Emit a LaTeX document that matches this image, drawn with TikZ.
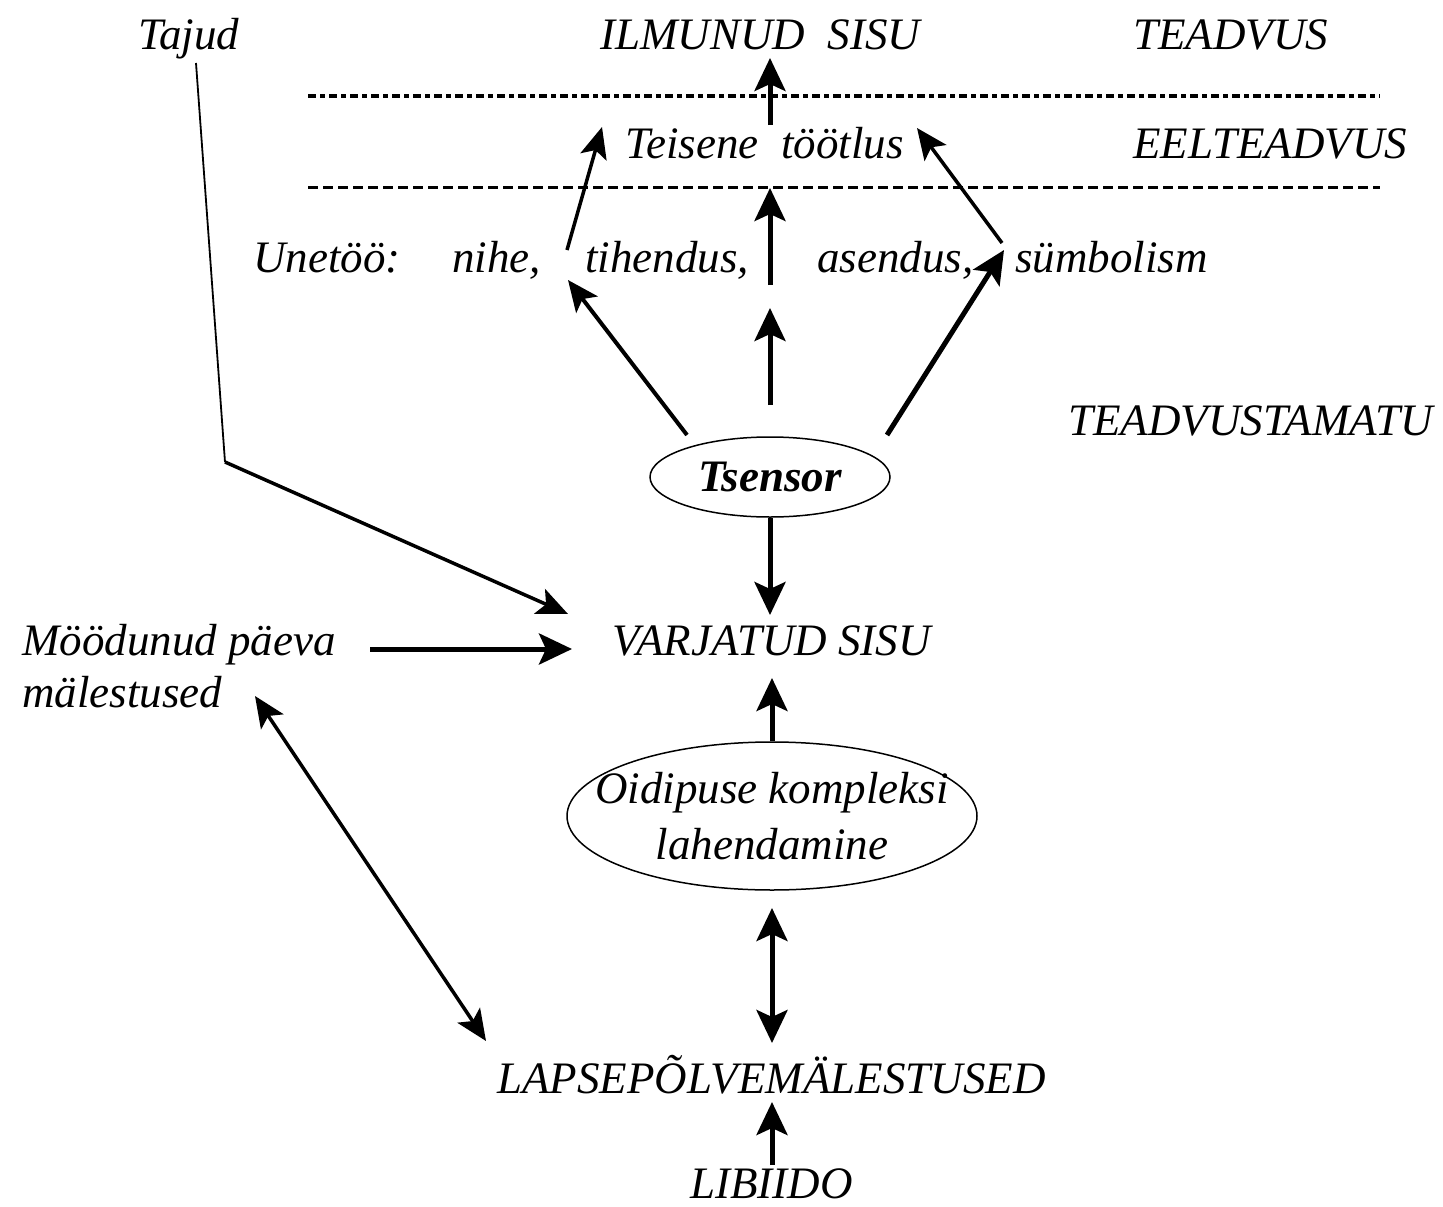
\documentclass[tikz,border=0pt]{standalone}
\usepackage{fontspec}
\setmainfont{Liberation Serif}
\usetikzlibrary{arrows.meta,shapes.geometric}
\begin{document}
\begin{tikzpicture}[x=1pt,y=-1pt,
  txt/.style={font=\fontsize{45}{54}\selectfont\itshape, inner sep=0pt, anchor=base west},
  bigarr/.style={line width=5pt, -{Stealth[length=33pt,width=31pt,inset=7pt]}},
  medarr/.style={line width=3.5pt, -{Stealth[length=31pt,width=27pt,inset=7pt]}},
  dblarr/.style={line width=5pt, {Stealth[length=33pt,width=31pt,inset=7pt]}-{Stealth[length=33pt,width=31pt,inset=7pt]}},
  thindbl/.style={line width=3.5pt, {Stealth[length=31pt,width=27pt,inset=7pt]}-{Stealth[length=31pt,width=27pt,inset=7pt]}},
  oval/.style={draw, line width=1.5pt, ellipse, inner sep=0pt, align=center}
]
\useasboundingbox (0,0) rectangle (1443,1207);

% texts
\node[txt] (tajud) at (138,50) {Tajud};
\node[txt] (ilm) at (600,50) {ILMUNUD\ \ SISU};
\node[txt] (teadvus) at (1133,50) {TEADVUS};
\node[txt] (teisene) at (625,158) {Teisene\ \ töötlus};
\node[txt] (eelt) at (1133,158) {EELTEADVUS};
\node[txt] (unetoo) at (253,272) {Unetöö:};
\node[txt] (nihe) at (452,272) {nihe,};
\node[txt] (tih) at (585,272) {tihendus,};
\node[txt] (asen) at (817,272) {asendus,};
\node[txt] (symb) at (1015,272) {sümbolism};
\node[txt] (teadm) at (1068,435) {TEADVUSTAMATU};
\node[txt] (varj) at (612,655) {VARJATUD SISU};
\node[txt] (mood1) at (22,655) {Möödunud päeva};
\node[txt] (mood2) at (22,707) {mälestused};
\node[txt] (laps) at (497,1093) {LAPSEPÕLVEMÄLESTUSED};
\node[txt] (libi) at (690,1198) {LIBIIDO};

% ellipses
\node[oval, minimum width=240pt, minimum height=80pt,
      font=\fontsize{45}{54}\selectfont\bfseries\itshape] (tsensor) at (770,477) {Tsensor};
\node[oval, minimum width=410pt, minimum height=148pt, inner xsep=-40pt,
      font=\fontsize{45}{56}\selectfont\itshape] (oid) at (772,816) {Oidipuse kompleksi\\lahendamine};

% dashed lines
\coordinate (d1a) at (308,96);
\coordinate (d1b) at (1380,96);
\coordinate (d2a) at (308,187);
\coordinate (d2b) at (1380,187);
\draw[line width=3.5pt, dash pattern=on 8pt off 4pt on 5pt off 4pt] (d1a) -- (d1b);
\draw[line width=3pt, dash pattern=on 10pt off 5pt] (d2a) -- (d2b);

% coordinates for arrows
\coordinate (c1s) at (770,125);
\coordinate (c1e) at (770,58);
\coordinate (c2s) at (770,285);
\coordinate (c2e) at (770,188);
\coordinate (c3s) at (770,405);
\coordinate (c3e) at (770,308);
\coordinate (tl) at (687,435);
\coordinate (tle) at (568,280);
\coordinate (ls) at (567,250);
\coordinate (le) at (602,127);
\coordinate (tr) at (887,435);
\coordinate (tre) at (1004,250);
\coordinate (rs) at (1002,243);
\coordinate (re) at (917,128);
\coordinate (tajs) at (196,63);
\coordinate (tajk) at (225,462);
\coordinate (taje) at (568,614);
\coordinate (ms) at (370,649);
\coordinate (me) at (572,649);
\coordinate (vtop) at (770,615);
\coordinate (vbot) at (772,678);
\coordinate (od) at (772,908);
\coordinate (lu) at (772,1043);
\coordinate (lb) at (772,1165);
\coordinate (lt) at (772,1102);
\coordinate (mma) at (255,696);
\coordinate (mmb) at (486,1041);

\draw[bigarr] (c1s) -- (c1e);
\draw[bigarr] (c2s) -- (c2e);
\draw[bigarr] (c3s) -- (c3e);
\draw[medarr, line width=4pt] (tl) -- (tle);
\draw[medarr] (ls) -- (le);
\draw[bigarr] (tr) -- (tre);
\draw[medarr] (rs) -- (re);
\draw[line width=1.8pt] (tajs) -- (tajk);
\draw[medarr] (tajk) -- (taje);
\draw[bigarr] (ms) -- (me);
\draw[bigarr] (tsensor.south) -- (vtop);
\draw[bigarr] (oid.north) -- (vbot);
\draw[dblarr] (od) -- (lu);
\draw[bigarr] (lb) -- (lt);
\draw[thindbl] (mma) -- (mmb);
\end{tikzpicture}
\end{document}
